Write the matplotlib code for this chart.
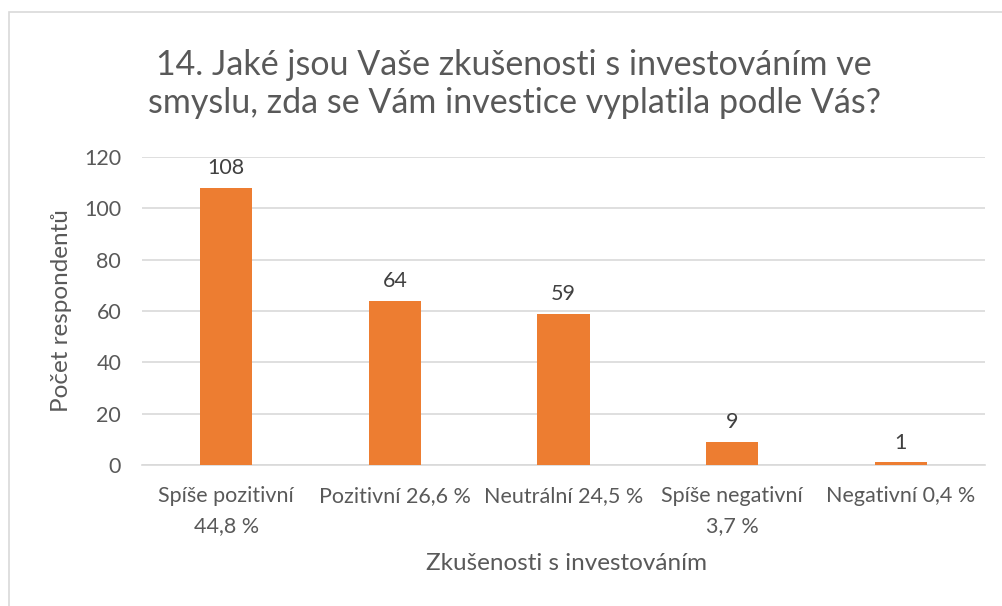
import matplotlib
matplotlib.use("Agg")
import matplotlib.pyplot as plt
from matplotlib.patches import Rectangle

categories = ["Spíše pozitivní\n44,8 %", "Pozitivní 26,6 %", "Neutrální 24,5 %",
              "Spíše negativní\n3,7 %", "Negativní 0,4 %"]
values = [108, 64, 59, 9, 1]
yticks = [0, 20, 40, 60, 80, 100, 120]

title = "14. Jaké jsou Vaše zkušenosti s investováním ve\nsmyslu, zda se Vám investice vyplatila podle Vás?"
xlabel = "Zkušenosti s investováním"
ylabel = "Počet respondentů"

plt.rcParams['font.family'] = ['Lato', 'DejaVu Sans']
txt = "#595959"
bar_color = "#ED7D31"

W, H = 1003, 606
fig = plt.figure(figsize=(W / 100, H / 100), dpi=100)
fig.patch.set_facecolor("white")

# chart border (top/left visible)
fig.patches.append(Rectangle((9 / W, -0.05), 1.2, 1.05 - 12 / H, transform=fig.transFigure,
                             fill=False, edgecolor="#D9D9D9", linewidth=1.2))

left, right = 142 / W, 985 / W
bottom, top = 1 - 465 / H, 1 - 157 / H
ax = fig.add_axes([left, bottom, right - left, top - bottom])

x = list(range(len(categories)))
ax.bar(x, values, width=0.31, color=bar_color, zorder=3)
ax.set_xlim(-0.5, len(categories) - 0.5)
ax.set_ylim(0, 120)
ax.set_yticks(yticks)
ax.set_xticks(x)
ax.set_xticklabels(categories, fontsize=15.5, color=txt, linespacing=1.65)
ax.tick_params(axis='y', labelsize=15.5, labelcolor=txt, length=0, pad=15)
ax.tick_params(axis='x', length=0, pad=15)
ax.grid(axis='y', color="#D9D9D9", linewidth=1.2, zorder=0)
for s in ["top", "right", "left"]:
    ax.spines[s].set_visible(False)
ax.spines["bottom"].set_color("#D9D9D9")
ax.spines["bottom"].set_linewidth(1.2)

for xi, v in zip(x, values):
    ax.annotate(str(v), (xi, v), xytext=(0, 7), textcoords="offset points",
                ha="center", va="bottom", fontsize=15.5, color="#404040")

fig.text(514 / W, 1 - 84 / H, title, ha="center", va="center", fontsize=24.5,
         color=txt, linespacing=1.25)
fig.text(567 / W, 1 - 563 / H, xlabel, ha="center", va="center", fontsize=17.5, color=txt)
fig.text(62 / W, 1 - 311 / H, ylabel, ha="center", va="center", fontsize=17.5,
         color=txt, rotation=90)

fig.savefig("out.png", dpi=100)
